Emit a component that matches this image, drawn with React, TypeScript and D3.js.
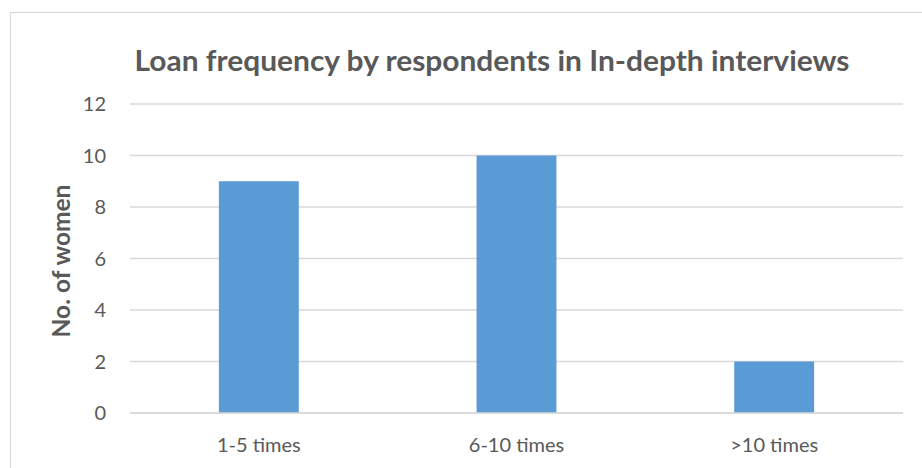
import React, { useEffect, useRef } from "react";
import * as d3 from "d3";

const categories: string[] = ["1-5 times", "6-10 times", ">10 times"];
const womenCounts: number[] = [9, 10, 2];
const yTicks: number[] = [0, 2, 4, 6, 8, 10, 12];
const chartTitle = "Loan frequency by respondents in In-depth interviews";
const yAxisTitle = "No. of women";

const W = 922;
const H = 468;
const FONT = "Lato, 'Open Sans', 'Liberation Sans', sans-serif";

export default function App() {
  const ref = useRef<SVGSVGElement | null>(null);

  useEffect(() => {
    const svg = d3.select(ref.current);
    svg.selectAll("*").remove();

    const plotLeft = 130;
    const plotRight = 903;
    const plotTop = 104;
    const plotBottom = 413;

    const x = d3
      .scaleBand<string>()
      .domain(categories)
      .range([plotLeft, plotRight])
      .paddingInner(0.69)
      .paddingOuter(0.345);
    const y = d3.scaleLinear().domain([0, 12]).range([plotBottom, plotTop]);

    svg.append("rect").attr("width", W).attr("height", H).attr("fill", "#ffffff");

    // chart frame
    svg
      .append("rect")
      .attr("x", 10.5)
      .attr("y", 12.5)
      .attr("width", W + 20)
      .attr("height", H + 20)
      .attr("fill", "#ffffff")
      .attr("stroke", "#d9d9d9")
      .attr("stroke-width", 1.2);

    // gridlines
    svg
      .append("g")
      .selectAll("line")
      .data(yTicks)
      .join("line")
      .attr("x1", plotLeft)
      .attr("x2", plotRight)
      .attr("y1", (d) => y(d))
      .attr("y2", (d) => y(d))
      .attr("stroke", "#d9d9d9")
      .attr("stroke-width", 1.5);

    // y tick labels
    svg
      .append("g")
      .selectAll("text")
      .data(yTicks)
      .join("text")
      .attr("x", 106)
      .attr("y", (d) => y(d) + 7)
      .attr("text-anchor", "end")
      .attr("font-family", FONT)
      .attr("font-size", 20)
      .attr("fill", "#595959")
      .text((d) => String(d));

    // bars
    svg
      .append("g")
      .selectAll("rect")
      .data(categories)
      .join("rect")
      .attr("x", (d) => x(d)!)
      .attr("width", x.bandwidth())
      .attr("y", (d, i) => y(womenCounts[i]))
      .attr("height", (d, i) => y(0) - y(womenCounts[i]))
      .attr("fill", "#5b9bd5");

    // baseline redrawn above bars
    svg
      .append("line")
      .attr("x1", plotLeft)
      .attr("x2", plotRight)
      .attr("y1", y(0))
      .attr("y2", y(0))
      .attr("stroke", "#d9d9d9")
      .attr("stroke-width", 1.5);

    // category labels
    svg
      .append("g")
      .selectAll("text")
      .data(categories)
      .join("text")
      .attr("x", (d) => x(d)! + x.bandwidth() / 2)
      .attr("y", 452)
      .attr("text-anchor", "middle")
      .attr("font-family", FONT)
      .attr("font-size", 20)
      .attr("fill", "#595959")
      .text((d) => d);

    // y axis title
    svg
      .append("text")
      .attr("transform", `translate(70, 261) rotate(-90)`)
      .attr("text-anchor", "middle")
      .attr("font-family", FONT)
      .attr("font-size", 24.5)
      .attr("font-weight", "bold")
      .attr("fill", "#595959")
      .text(yAxisTitle);

    // chart title
    svg
      .append("text")
      .attr("x", 492)
      .attr("y", 71)
      .attr("text-anchor", "middle")
      .attr("font-family", FONT)
      .attr("font-size", 29)
      .attr("font-weight", "bold")
      .attr("fill", "#595959")
      .attr("textLength", 715)
      .attr("lengthAdjust", "spacingAndGlyphs")
      .text(chartTitle);
  }, []);

  return (
    <svg
      ref={ref}
      width={W}
      height={H}
      style={{ display: "block", position: "absolute", left: 0, top: 0 }}
    />
  );
}
